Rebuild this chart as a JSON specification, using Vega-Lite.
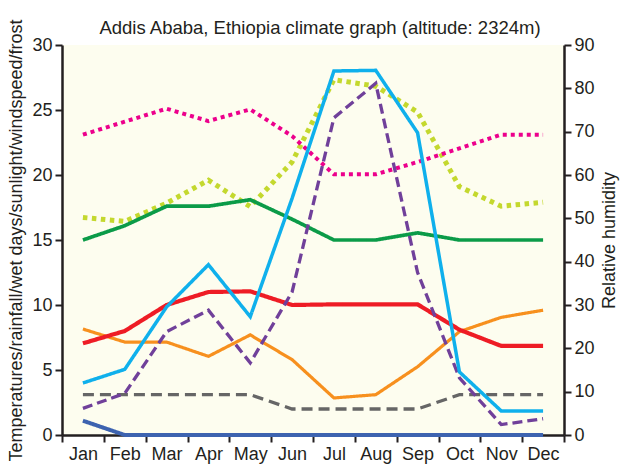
{
  "$schema": "https://vega.github.io/schema/vega-lite/v6.json",
  "width": 502,
  "height": 390,
  "autosize": {"type": "none"},
  "padding": {"left": 62, "top": 45, "right": 59, "bottom": 40},
  "background": "white",
  "title": {
    "text": "Addis Ababa, Ethiopia climate graph (altitude: 2324m)",
    "font": "Liberation Sans",
    "fontSize": 18.5,
    "fontWeight": "normal",
    "color": "#231f20",
    "anchor": "middle",
    "offset": 10,
    "dx": 7,
    "dy": 29
  },
  "datasets": {
    "humidity": [
      {"month": "Jan", "value": 50.2},
      {"month": "Feb", "value": 49.3},
      {"month": "Mar", "value": 53.5},
      {"month": "Apr", "value": 58.8},
      {"month": "May", "value": 52.7},
      {"month": "Jun", "value": 63.0},
      {"month": "Jul", "value": 82.0},
      {"month": "Aug", "value": 80.5},
      {"month": "Sep", "value": 74.5},
      {"month": "Oct", "value": 57.3},
      {"month": "Nov", "value": 52.8},
      {"month": "Dec", "value": 53.7}
    ],
    "left": [
      {"series": "frost", "month": "Jan", "value": 1.1},
      {"series": "frost", "month": "Feb", "value": 0},
      {"series": "frost", "month": "Mar", "value": 0},
      {"series": "frost", "month": "Apr", "value": 0},
      {"series": "frost", "month": "May", "value": 0},
      {"series": "frost", "month": "Jun", "value": 0},
      {"series": "frost", "month": "Jul", "value": 0},
      {"series": "frost", "month": "Aug", "value": 0},
      {"series": "frost", "month": "Sep", "value": 0},
      {"series": "frost", "month": "Oct", "value": 0},
      {"series": "frost", "month": "Nov", "value": 0},
      {"series": "frost", "month": "Dec", "value": 0},
      {"series": "windspeed", "month": "Jan", "value": 3.1},
      {"series": "windspeed", "month": "Feb", "value": 3.1},
      {"series": "windspeed", "month": "Mar", "value": 3.1},
      {"series": "windspeed", "month": "Apr", "value": 3.1},
      {"series": "windspeed", "month": "May", "value": 3.1},
      {"series": "windspeed", "month": "Jun", "value": 2.0},
      {"series": "windspeed", "month": "Jul", "value": 2.0},
      {"series": "windspeed", "month": "Aug", "value": 2.0},
      {"series": "windspeed", "month": "Sep", "value": 2.0},
      {"series": "windspeed", "month": "Oct", "value": 3.1},
      {"series": "windspeed", "month": "Nov", "value": 3.1},
      {"series": "windspeed", "month": "Dec", "value": 3.1},
      {"series": "min temp", "month": "Jan", "value": 8.15},
      {"series": "min temp", "month": "Feb", "value": 7.15},
      {"series": "min temp", "month": "Mar", "value": 7.15},
      {"series": "min temp", "month": "Apr", "value": 6.05},
      {"series": "min temp", "month": "May", "value": 7.7},
      {"series": "min temp", "month": "Jun", "value": 5.8},
      {"series": "min temp", "month": "Jul", "value": 2.85},
      {"series": "min temp", "month": "Aug", "value": 3.1},
      {"series": "min temp", "month": "Sep", "value": 5.25},
      {"series": "min temp", "month": "Oct", "value": 7.95},
      {"series": "min temp", "month": "Nov", "value": 9.05},
      {"series": "min temp", "month": "Dec", "value": 9.6},
      {"series": "sunlight", "month": "Jan", "value": 7.05},
      {"series": "sunlight", "month": "Feb", "value": 8.0},
      {"series": "sunlight", "month": "Mar", "value": 10.0},
      {"series": "sunlight", "month": "Apr", "value": 11.0},
      {"series": "sunlight", "month": "May", "value": 11.05},
      {"series": "sunlight", "month": "Jun", "value": 10.0},
      {"series": "sunlight", "month": "Jul", "value": 10.05},
      {"series": "sunlight", "month": "Aug", "value": 10.05},
      {"series": "sunlight", "month": "Sep", "value": 10.05},
      {"series": "sunlight", "month": "Oct", "value": 8.1},
      {"series": "sunlight", "month": "Nov", "value": 6.85},
      {"series": "sunlight", "month": "Dec", "value": 6.85},
      {"series": "mean temp", "month": "Jan", "value": 15.0},
      {"series": "mean temp", "month": "Feb", "value": 16.1},
      {"series": "mean temp", "month": "Mar", "value": 17.6},
      {"series": "mean temp", "month": "Apr", "value": 17.6},
      {"series": "mean temp", "month": "May", "value": 18.1},
      {"series": "mean temp", "month": "Jun", "value": 16.6},
      {"series": "mean temp", "month": "Jul", "value": 15.0},
      {"series": "mean temp", "month": "Aug", "value": 15.0},
      {"series": "mean temp", "month": "Sep", "value": 15.55},
      {"series": "mean temp", "month": "Oct", "value": 15.0},
      {"series": "mean temp", "month": "Nov", "value": 15.0},
      {"series": "mean temp", "month": "Dec", "value": 15.0},
      {"series": "max temp", "month": "Jan", "value": 23.1},
      {"series": "max temp", "month": "Feb", "value": 24.1},
      {"series": "max temp", "month": "Mar", "value": 25.1},
      {"series": "max temp", "month": "Apr", "value": 24.15},
      {"series": "max temp", "month": "May", "value": 25.05},
      {"series": "max temp", "month": "Jun", "value": 23.0},
      {"series": "max temp", "month": "Jul", "value": 20.05},
      {"series": "max temp", "month": "Aug", "value": 20.05},
      {"series": "max temp", "month": "Sep", "value": 21.0},
      {"series": "max temp", "month": "Oct", "value": 22.05},
      {"series": "max temp", "month": "Nov", "value": 23.1},
      {"series": "max temp", "month": "Dec", "value": 23.1},
      {"series": "wet days", "month": "Jan", "value": 2.05},
      {"series": "wet days", "month": "Feb", "value": 3.2},
      {"series": "wet days", "month": "Mar", "value": 7.95},
      {"series": "wet days", "month": "Apr", "value": 9.6},
      {"series": "wet days", "month": "May", "value": 5.55},
      {"series": "wet days", "month": "Jun", "value": 11.0},
      {"series": "wet days", "month": "Jul", "value": 24.4},
      {"series": "wet days", "month": "Aug", "value": 27.05},
      {"series": "wet days", "month": "Sep", "value": 12.5},
      {"series": "wet days", "month": "Oct", "value": 4.4},
      {"series": "wet days", "month": "Nov", "value": 0.8},
      {"series": "wet days", "month": "Dec", "value": 1.25},
      {"series": "rainfall", "month": "Jan", "value": 4.0},
      {"series": "rainfall", "month": "Feb", "value": 5.05},
      {"series": "rainfall", "month": "Mar", "value": 9.85},
      {"series": "rainfall", "month": "Apr", "value": 13.1},
      {"series": "rainfall", "month": "May", "value": 9.1},
      {"series": "rainfall", "month": "Jun", "value": 18.2},
      {"series": "rainfall", "month": "Jul", "value": 28.0},
      {"series": "rainfall", "month": "Aug", "value": 28.05},
      {"series": "rainfall", "month": "Sep", "value": 23.25},
      {"series": "rainfall", "month": "Oct", "value": 4.85},
      {"series": "rainfall", "month": "Nov", "value": 1.85},
      {"series": "rainfall", "month": "Dec", "value": 1.85}
    ]
  },
  "encoding": {
    "x": {
      "field": "month",
      "type": "ordinal",
      "sort": ["Jan", "Feb", "Mar", "Apr", "May", "Jun", "Jul", "Aug", "Sep", "Oct", "Nov", "Dec"],
      "bandPosition": 0.5,
      "scale": {"type": "band", "paddingInner": 0, "paddingOuter": 0},
      "axis": {"title": null, "labelAngle": 0, "tickBand": "extent", "labelPadding": 3}
    }
  },
  "layer": [
    {
      "data": {"name": "humidity"},
      "mark": {"type": "line", "color": "#c4d82e", "strokeWidth": 5, "strokeDash": [4.5, 4.5], "strokeCap": "butt"},
      "encoding": {
        "y": {
          "field": "value",
          "type": "quantitative",
          "scale": {"domain": [0, 90], "nice": false, "zero": true},
          "axis": {"orient": "right", "values": [0, 10, 20, 30, 40, 50, 60, 70, 80, 90], "title": "Relative humidity", "titleAngle": 270, "titleBaseline": "top", "titlePadding": 6}
        }
      }
    },
    {
      "data": {"name": "left"},
      "mark": {"type": "line", "strokeCap": "butt"},
      "encoding": {
        "y": {
          "field": "value",
          "type": "quantitative",
          "scale": {"domain": [0, 30], "nice": false},
          "axis": {"orient": "left", "values": [0, 5, 10, 15, 20, 25, 30], "title": "Temperatures/rainfall/wet days/sunlight/windspeed/frost", "titlePadding": 6}
        },
        "color": {
          "field": "series",
          "type": "nominal",
          "legend": null,
          "scale": {
            "domain": ["frost", "windspeed", "min temp", "sunlight", "mean temp", "max temp", "wet days", "rainfall"],
            "range": ["#3d63b0", "#666666", "#f7901e", "#ee1c25", "#0b9b48", "#ec008c", "#70409a", "#0fb0ec"]
          }
        },
        "strokeDash": {
          "field": "series",
          "type": "nominal",
          "legend": null,
          "scale": {
            "domain": ["frost", "windspeed", "min temp", "sunlight", "mean temp", "max temp", "wet days", "rainfall"],
            "range": [[1, 0], [11, 6], [1, 0], [1, 0], [1, 0], [4, 4], [10, 5], [1, 0]]
          }
        },
        "strokeWidth": {
          "field": "series",
          "type": "nominal",
          "legend": null,
          "scale": {
            "type": "ordinal",
            "domain": ["frost", "windspeed", "min temp", "sunlight", "mean temp", "max temp", "wet days", "rainfall"],
            "range": [4, 3.3, 3.2, 4.2, 3.7, 4, 3.3, 3.5]
          }
        }
      }
    }
  ],
  "resolve": {"scale": {"y": "independent"}},
  "config": {
    "view": {"fill": "#fdfdef", "stroke": null},
    "font": "Liberation Sans",
    "axis": {
      "grid": false,
      "domainColor": "#231f20",
      "domainWidth": 2.5,
      "tickColor": "#231f20",
      "tickWidth": 2,
      "tickSize": 7,
      "labelColor": "#231f20",
      "labelFont": "Liberation Sans",
      "labelFontSize": 18,
      "labelPadding": 3,
      "titleFont": "Liberation Sans",
      "titleFontSize": 18,
      "titleFontWeight": "normal",
      "titleColor": "#231f20"
    }
  }
}
